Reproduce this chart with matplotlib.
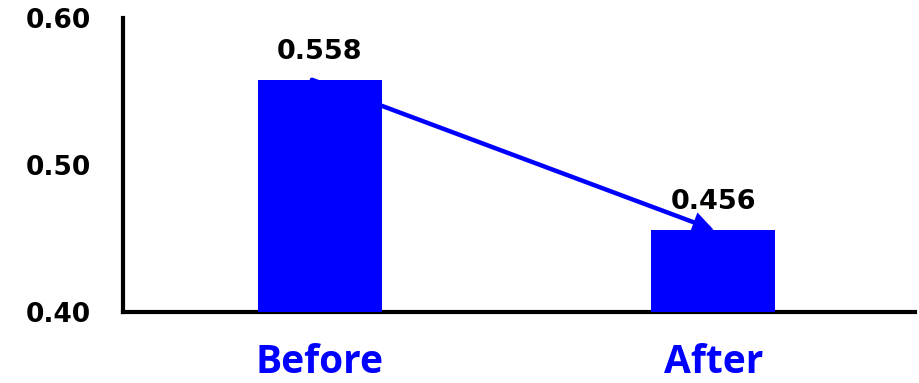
import matplotlib.pyplot as plt

# before/after values
groups = ["Before", "After"]
values = [0.558, 0.456]
y_ticks = [0.40, 0.50, 0.60]
y_tick_labels = ["0.40", "0.50", "0.60"]

fig = plt.figure(figsize=(9.19, 3.83), dpi=100)
ax = fig.add_axes([0.1338, 0.1854, 0.8619, 0.7676])

x = list(range(len(groups)))
ax.bar(x, values, width=0.315, color="#0000FF", zorder=3)

# trend arrow from the top of the first bar to the top of the second
ax.annotate("", xy=(x[1], values[1]), xytext=(x[0] - 0.02, values[0]),
            arrowprops=dict(arrowstyle="-|>,head_length=1.0,head_width=0.5",
                            color="#0000FF", lw=3.2, shrinkA=0, shrinkB=0,
                            joinstyle="miter"),
            zorder=2)

for xi, v in zip(x, values):
    ax.annotate(f"{v:.3f}", xy=(xi, v), xytext=(0, 20), textcoords="offset points",
                ha="center", va="center", fontsize=19.5, fontweight="bold",
                family="DejaVu Sans", color="black", zorder=4)

ax.set_xlim(-0.5, 1.512)
ax.set_ylim(0.40, 0.60)
ax.set_yticks(y_ticks)
ax.set_yticklabels(y_tick_labels, fontsize=19, fontweight="bold", family="DejaVu Sans")
ax.set_xticks(x)
ax.set_xticklabels(groups, fontsize=28, fontweight="bold", family="Open Sans", color="#0000FF")
ax.tick_params(axis="both", length=0)
ax.tick_params(axis="y", pad=23)
ax.tick_params(axis="x", pad=22)

for side in ["top", "right"]:
    ax.spines[side].set_visible(False)
for side in ["left", "bottom"]:
    ax.spines[side].set_linewidth(3)
    ax.spines[side].set_color("black")

fig.savefig("out.png", dpi=100)
